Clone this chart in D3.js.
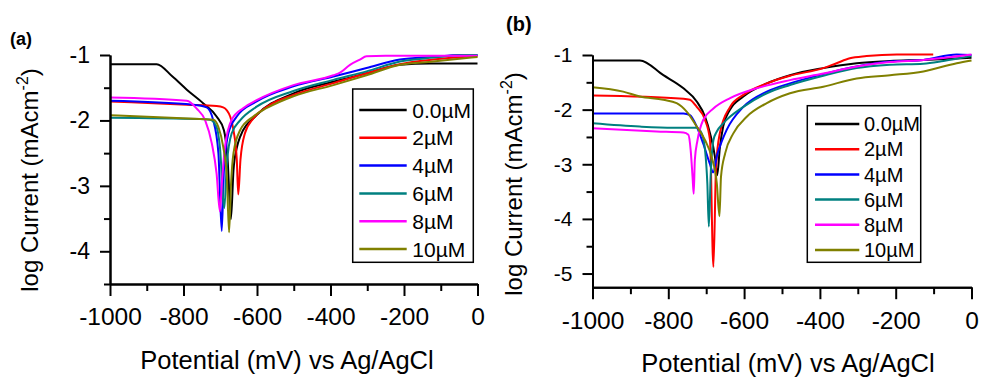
<!DOCTYPE html>
<html>
<head>
<meta charset="utf-8">
<script src="https://cdn.jsdelivr.net/npm/d3@7"></script>
<style>
  body { margin: 0; background: #fff; }
  svg { display: block; }
  text { font-family: "Liberation Sans", Arial, Helvetica, sans-serif; fill: #000; }
</style>
</head>
<body>
<svg id="chart" width="981" height="378"></svg>
<script>
// Legend labels and line colours (inhibitor concentration)
const seriesNames = ["0.0µM", "2µM", "4µM", "6µM", "8µM", "10µM"];
const seriesColors = ["#000000", "#ff0000", "#0000ff", "#008080", "#ff00ff", "#808000"];

// Axis ticks
const xTicks = [-1000, -800, -600, -400, -200, 0];
const xMinorTicks = [-900, -700, -500, -300, -100];
const yTicksA = [-1, -2, -3, -4];
const yMinorTicksA = [-1.5, -2.5, -3.5, -4.5];
const yTicksB = [-1, -2, -3, -4, -5];
const yMinorTicksB = [-1.5, -2.5, -3.5, -4.5];

// Panel (a): [potential mV, log current]
const a0uM = [[-1000,-1.14],[-873,-1.14],[-830,-1.33],[-791,-1.53],[-746,-1.74],[-710,-1.94],[-690,-2.15],[-680,-2.6],[-671,-3.51],[-664,-2.76],[-655,-2.42],[-646,-2.25],[-601,-1.92],[-502,-1.59],[-393,-1.41],[-301,-1.28],[-211,-1.15],[-129,-1.13],[0,-1.13]];
const a2uM = [[-1000,-1.71],[-791,-1.76],[-710,-1.78],[-692,-1.80],[-673,-1.94],[-664,-2.15],[-655,-2.6],[-651,-3.13],[-645,-2.6],[-633,-2.2],[-610,-1.97],[-573,-1.79],[-501,-1.61],[-392,-1.43],[-302,-1.28],[-211,-1.14],[-121,-1.07],[-40,-1.03],[0,-1.02]];
const a4uM = [[-1000,-1.70],[-773,-1.76],[-737,-1.80],[-719,-2.0],[-705,-2.5],[-696,-3.69],[-690,-2.76],[-678,-2.2],[-655,-1.94],[-601,-1.71],[-501,-1.48],[-392,-1.33],[-302,-1.20],[-211,-1.07],[-121,-1.03],[-48,-1.0],[0,-1.0]];
const a6uM = [[-1000,-1.96],[-755,-1.98],[-728,-1.99],[-710,-2.1],[-701,-2.4],[-689,-3.34],[-682,-2.66],[-669,-2.2],[-646,-2.0],[-601,-1.79],[-501,-1.55],[-392,-1.38],[-302,-1.25],[-211,-1.10],[-121,-1.04],[-39,-1.0],[0,-1.0]];
const a8uM = [[-1000,-1.65],[-791,-1.70],[-764,-1.82],[-741,-2.0],[-723,-2.35],[-710,-2.81],[-701,-3.39],[-695,-2.91],[-687,-2.40],[-669,-1.99],[-637,-1.81],[-601,-1.69],[-501,-1.46],[-392,-1.31],[-374,-1.27],[-347,-1.15],[-320,-1.07],[-302,-1.02],[-250,-1.01],[0,-1.01]];
const a10uM = [[-1000,-1.92],[-755,-1.98],[-719,-1.99],[-705,-2.1],[-692,-2.40],[-682,-2.86],[-676,-3.71],[-671,-3.01],[-664,-2.5],[-646,-2.15],[-610,-1.94],[-573,-1.81],[-501,-1.63],[-392,-1.46],[-302,-1.31],[-211,-1.15],[-121,-1.10],[0,-1.03]];

// Panel (b): [potential mV, log current]
const b0uM = [[-1000,-1.10],[-875,-1.10],[-813,-1.37],[-760,-1.61],[-725,-1.85],[-703,-2.13],[-690,-2.43],[-677,-2.86],[-671,-3.2],[-664,-2.7],[-655,-2.3],[-637,-2.0],[-602,-1.76],[-540,-1.52],[-479,-1.37],[-391,-1.24],[-303,-1.15],[-215,-1.11],[-127,-1.09],[0,-1.05]];
const b2uM = [[-1000,-1.74],[-760,-1.80],[-743,-1.82],[-725,-1.95],[-703,-2.19],[-690,-2.56],[-681,-4.88],[-674,-3.04],[-664,-2.43],[-637,-1.95],[-602,-1.73],[-540,-1.52],[-479,-1.38],[-391,-1.24],[-356,-1.15],[-321,-1.06],[-277,-1.02],[-197,-0.99],[-101,-0.99]];
const b4uM = [[-1000,-2.07],[-760,-2.07],[-743,-2.10],[-725,-2.31],[-708,-2.62],[-690,-3.0],[-682,-3.15],[-670,-2.8],[-660,-2.6],[-646,-2.37],[-602,-1.95],[-540,-1.67],[-479,-1.52],[-391,-1.35],[-303,-1.21],[-215,-1.12],[-127,-1.09],[-39,-0.99],[0,-1.0]];
const b6uM = [[-1000,-2.25],[-875,-2.31],[-787,-2.33],[-725,-2.33],[-712,-2.43],[-703,-2.74],[-697,-3.35],[-693,-4.14],[-688,-3.17],[-681,-2.56],[-672,-2.40],[-655,-2.25],[-602,-1.95],[-540,-1.70],[-479,-1.55],[-391,-1.38],[-303,-1.24],[-215,-1.18],[-127,-1.16],[-74,-1.11],[0,-1.02]];
const b8uM = [[-1000,-2.34],[-831,-2.40],[-760,-2.42],[-747,-2.46],[-741,-2.74],[-736,-3.23],[-733,-3.54],[-730,-2.92],[-723,-2.56],[-708,-2.19],[-681,-1.98],[-637,-1.79],[-567,-1.61],[-479,-1.46],[-391,-1.34],[-303,-1.21],[-215,-1.13],[-127,-1.09],[0,-0.99]];
const b10uM = [[-1000,-1.59],[-919,-1.67],[-875,-1.76],[-813,-1.82],[-778,-1.88],[-751,-2.04],[-725,-2.31],[-703,-2.56],[-686,-2.86],[-672,-3.35],[-665,-3.95],[-661,-3.23],[-650,-2.80],[-628,-2.43],[-593,-2.13],[-540,-1.88],[-479,-1.70],[-391,-1.58],[-303,-1.43],[-215,-1.37],[-127,-1.30],[-39,-1.15],[0,-1.10]];

const svg = d3.select("#chart");

const panels = [
  {
    tag: "(a)", tagX: 10, tagY: 45, tagSize: 18,
    series: [a0uM, a2uM, a4uM, a6uM, a8uM, a10uM],
    left: 110, right: 477.5, top: 55, bottom: 284,
    yMin: -4.5, yTicks: yTicksA, yMinor: yMinorTicksA,
    yLabelSize: 23, xLabelSize: 24.5,
    yTitleX: 38, yTitleY: 180, xTitleX: 287, xTitleY: 369,
    legend: { x: 352.7, y: 89, w: 120.6, h: 173.3, row0: 110, rowGap: 27.8, lineX0: 359.3, lineX1: 406.7, textX: 412.3, size: 21 }
  },
  {
    tag: "(b)", tagX: 506, tagY: 31, tagSize: 20,
    series: [b0uM, b2uM, b4uM, b6uM, b8uM, b10uM],
    left: 592.5, right: 971.5, top: 55, bottom: 287.2,
    yMin: -5.25, yTicks: yTicksB, yMinor: yMinorTicksB,
    yLabelSize: 21, xLabelSize: 24.5,
    yTitleX: 522, yTitleY: 184, xTitleX: 788, xTitleY: 372,
    legend: { x: 807.3, y: 105.7, w: 113.4, h: 156.6, row0: 124, rowGap: 25.2, lineX0: 815, lineX1: 859.3, textX: 864, size: 20 }
  }
];

function styleAxis(g) {
  g.selectAll("path.domain").attr("stroke", "#000").attr("stroke-width", 2);
  g.selectAll(".tick line").attr("stroke", "#000").attr("stroke-width", 2);
}

panels.forEach(p => {
  const x = d3.scaleLinear().domain([-1000, 0]).range([p.left, p.right]);
  const y = d3.scaleLinear().domain([p.yMin, -1]).range([p.bottom, p.top]);
  const g = svg.append("g");

  // polarization curves
  const line = d3.line()
    .x(d => x(d[0]))
    .y(d => y(d[1]))
    .curve(d3.curveMonotoneX);

  p.series.forEach((s, i) => {
    g.append("path")
      .datum(s)
      .attr("d", line)
      .attr("fill", "none")
      .attr("stroke", seriesColors[i])
      .attr("stroke-width", 2)
      .attr("stroke-linejoin", "round");
  });

  // x axis: minor then major ticks
  const xMinorG = g.append("g")
    .attr("transform", `translate(0,${p.bottom})`)
    .call(d3.axisBottom(x).tickValues(xMinorTicks).tickSize(7).tickSizeOuter(0).tickFormat(""));
  styleAxis(xMinorG);
  const xMajorG = g.append("g")
    .attr("transform", `translate(0,${p.bottom})`)
    .call(d3.axisBottom(x).tickValues(xTicks).tickSize(12).tickSizeOuter(0).tickPadding(12).tickFormat(d => String(d)));
  styleAxis(xMajorG);
  xMajorG.selectAll(".tick text")
    .attr("font-size", p.xLabelSize)
    .attr("font-family", null)
    .attr("textLength", null);

  // y axis: minor then major ticks
  const yMinorG = g.append("g")
    .attr("transform", `translate(${p.left},0)`)
    .call(d3.axisLeft(y).tickValues(p.yMinor.filter(v => v >= p.yMin)).tickSize(6).tickSizeOuter(0).tickFormat(""));
  styleAxis(yMinorG);
  const yMajorG = g.append("g")
    .attr("transform", `translate(${p.left},0)`)
    .call(d3.axisLeft(y).tickValues(p.yTicks).tickSize(10).tickSizeOuter(0).tickPadding(10).tickFormat(d => String(d)));
  styleAxis(yMajorG);
  yMajorG.selectAll(".tick text")
    .attr("font-size", p.yLabelSize)
    .attr("font-family", null);

  // axis titles
  const yTitle = g.append("text")
    .attr("transform", `translate(${p.yTitleX},${p.yTitleY}) rotate(-90)`)
    .attr("text-anchor", "middle")
    .attr("font-size", 24);
  yTitle.append("tspan").text("log Current (mAcm");
  yTitle.append("tspan").attr("font-size", 16).attr("dy", -10).text("-2");
  yTitle.append("tspan").attr("dy", 10).text(")");

  g.append("text")
    .attr("x", p.xTitleX).attr("y", p.xTitleY)
    .attr("text-anchor", "middle")
    .attr("font-size", 25.5)
    .text("Potential (mV) vs Ag/AgCl");

  // panel tag
  g.append("text")
    .attr("x", p.tagX).attr("y", p.tagY)
    .attr("font-size", p.tagSize)
    .attr("font-weight", "bold")
    .text(p.tag);

  // legend
  const L = p.legend;
  const lg = g.append("g");
  lg.append("rect")
    .attr("x", L.x).attr("y", L.y).attr("width", L.w).attr("height", L.h)
    .attr("fill", "#fff").attr("stroke", "#000").attr("stroke-width", 1.5);
  seriesNames.forEach((name, i) => {
    const ry = L.row0 + i * L.rowGap;
    lg.append("line")
      .attr("x1", L.lineX0).attr("x2", L.lineX1)
      .attr("y1", ry).attr("y2", ry)
      .attr("stroke", seriesColors[i]).attr("stroke-width", 2.5);
    lg.append("text")
      .attr("x", L.textX).attr("y", ry)
      .attr("dy", "0.36em")
      .attr("font-size", L.size)
      .text(name);
  });
});
</script>
</body>
</html>
